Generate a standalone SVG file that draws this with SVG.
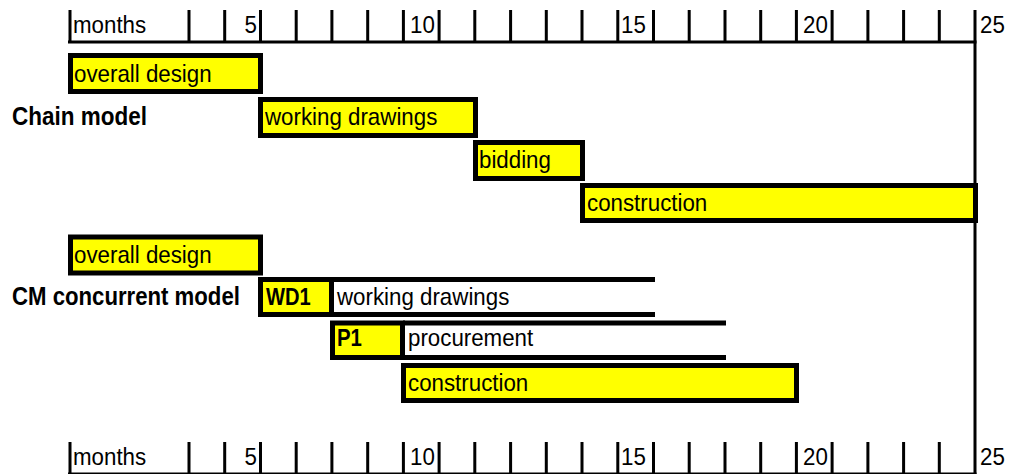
<svg xmlns="http://www.w3.org/2000/svg" width="1010" height="474" viewBox="0 0 1010 474">
<style>
.t{font-family:"Liberation Sans",Arial,sans-serif;font-size:24px;fill:#000}
.b{font-family:"Liberation Sans",Arial,sans-serif;font-size:26px;font-weight:bold;fill:#000}
.bs{font-family:"Liberation Sans",Arial,sans-serif;font-size:24px;font-weight:bold;fill:#000}
.bar{fill:#ffff00;stroke:#000;stroke-width:5}
.ln{stroke:#000;stroke-width:5;fill:none}
.ax{stroke:#000;stroke-width:3;fill:none}
</style>
<rect width="1010" height="474" fill="#fff"/>
<g id="axis-top">
<path class="ax" d="M68 42H976.5M70 10V42M189 10V42M224.7 10V42M260.5 10V42M296.2 10V42M331.9 10V42M367.7 10V42M403.4 10V42M439.1 10V42M474.8 10V42M510.6 10V42M546.3 10V42M582 10V42M617.8 10V42M653.5 10V42M689.2 10V42M725 10V42M760.7 10V42M796.4 10V42M832.1 10V42M867.9 10V42M903.6 10V42M939.3 10V42"/>
<text class="t" transform="matrix(0.93 0 0 1 73 33)">months</text>
<text class="t" transform="matrix(0.93 0 0 1 257 33)" text-anchor="end">5</text>
<text class="t" transform="matrix(0.93 0 0 1 410 33)">10</text>
<text class="t" transform="matrix(0.93 0 0 1 621 33)">15</text>
<text class="t" transform="matrix(0.93 0 0 1 803 33)">20</text>
<text class="t" transform="matrix(0.93 0 0 1 980 33)">25</text>
</g>
<g id="axis-bottom">
<path class="ax" d="M68 474H976.5M70 442V474M189 442V474M224.7 442V474M260.5 442V474M296.2 442V474M331.9 442V474M367.7 442V474M403.4 442V474M439.1 442V474M474.8 442V474M510.6 442V474M546.3 442V474M582 442V474M617.8 442V474M653.5 442V474M689.2 442V474M725 442V474M760.7 442V474M796.4 442V474M832.1 442V474M867.9 442V474M903.6 442V474M939.3 442V474"/>
<text class="t" transform="matrix(0.93 0 0 1 73 465)">months</text>
<text class="t" transform="matrix(0.93 0 0 1 257 465)" text-anchor="end">5</text>
<text class="t" transform="matrix(0.93 0 0 1 410 465)">10</text>
<text class="t" transform="matrix(0.93 0 0 1 621 465)">15</text>
<text class="t" transform="matrix(0.93 0 0 1 803 465)">20</text>
<text class="t" transform="matrix(0.93 0 0 1 980 465)">25</text>
</g>
<g id="end-line"><path class="ax" d="M975 10V474"/></g>
<g id="label-chain"><text class="b" transform="matrix(0.865 0 0 1 12 125)">Chain model</text></g>
<g id="label-cm"><text class="b" transform="matrix(0.853 0 0 1 12 305)">CM concurrent model</text></g>
<g id="chain-overall-design">
<rect class="bar" x="70.5" y="55.5" width="190" height="36"/>
<text class="t" transform="matrix(0.93 0 0 1 74 82)">overall design</text>
</g>
<g id="chain-working-drawings">
<rect class="bar" x="260.5" y="99.5" width="215" height="36"/>
<text class="t" transform="matrix(0.93 0 0 1 265 125)">working drawings</text>
</g>
<g id="chain-bidding">
<rect class="bar" x="475.5" y="142.5" width="107" height="36"/>
<text class="t" transform="matrix(0.93 0 0 1 479 168)">bidding</text>
</g>
<g id="chain-construction">
<rect class="bar" x="582.5" y="185.5" width="393" height="35"/>
<text class="t" transform="matrix(0.93 0 0 1 587 211)">construction</text>
</g>
<g id="cm-overall-design">
<rect class="bar" x="70.5" y="237" width="190" height="36"/>
<text class="t" transform="matrix(0.93 0 0 1 74 263)">overall design</text>
</g>
<g id="cm-working-drawings">
<path class="ln" d="M331 279.5H655M331 314.5H655"/>
<rect class="bar" x="260.5" y="279.5" width="71" height="35"/>
<text class="bs" transform="matrix(0.84 0 0 1 266 305)">WD1</text>
<text class="t" transform="matrix(0.93 0 0 1 337 305)">working drawings</text>
</g>
<g id="cm-procurement">
<path class="ln" d="M403 323H726M403 357.5H726"/>
<rect class="bar" x="332.5" y="323" width="70" height="34.5"/>
<text class="bs" transform="matrix(0.85 0 0 1 337 346)">P1</text>
<text class="t" transform="matrix(0.93 0 0 1 408 346)">procurement</text>
</g>
<g id="cm-construction">
<rect class="bar" x="403.5" y="365.5" width="393" height="35"/>
<text class="t" transform="matrix(0.93 0 0 1 408 391)">construction</text>
</g>
</svg>
